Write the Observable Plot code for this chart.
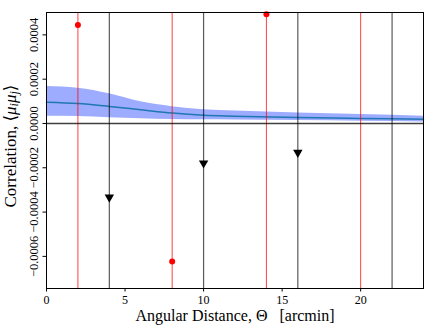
<!DOCTYPE html>
<html><head><meta charset="utf-8">
<script src="https://cdn.jsdelivr.net/npm/d3@7"></script>
<script src="https://cdn.jsdelivr.net/npm/@observablehq/plot@0.6"></script>
<style>body{margin:0;background:#fff}</style>
</head><body><div id="chart"></div>
<script>
const bandX = [0, 2, 4, 6, 8, 10, 12, 16, 20, 24];
const bandUpper = [1.67e-4, 1.59e-4, 1.34e-4, 9.8e-5, 7.6e-5, 6.2e-5, 5.6e-5, 4.7e-5, 4.0e-5, 3.3e-5];
const bandMean  = [9.6e-5, 9.0e-5, 7.7e-5, 6.2e-5, 4.7e-5, 3.7e-5, 3.3e-5, 2.7e-5, 2.3e-5, 1.9e-5];
const bandLower = [3.3e-5, 3.2e-5, 2.6e-5, 2.1e-5, 1.8e-5, 1.7e-5, 1.6e-5, 1.3e-5, 1.0e-5, 7e-6];
const redX = [2, 8, 14, 20];
const redY = [4.45e-4, -6.23e-4, 4.93e-4, null];
const blackX = [4, 10, 16, 22];
const blackY = [-3.33e-4, -1.79e-4, -1.31e-4, null];
const xTicks = [0, 5, 10, 15, 20];
const yTicks = [-0.0006, -0.0004, -0.0002, 0, 0.0002, 0.0004];
const xLabel = "Angular Distance, \u0398   [arcmin]";

const band = bandX.map((x, i) => ({x, lo: bandLower[i], hi: bandUpper[i], m: bandMean[i]}));
const reds = redX.map((x, i) => ({x, y: redY[i]})).filter(d => d.y != null);
const blacks = blackX.map((x, i) => ({x, y: blackY[i]})).filter(d => d.y != null);
const fmt = d3.format(".4f");
const font = "Liberation Serif, DejaVu Serif, serif";

const plot = Plot.plot({
  width: 436, height: 327,
  marginLeft: 46, marginRight: 13, marginTop: 12, marginBottom: 39,
  style: {fontFamily: font, fontSize: "12px", background: "white"},
  x: {domain: [0, 24]},
  y: {domain: [-0.000745, 0.000501]},
  marks: [
    Plot.areaY(band, {x: "x", y1: "lo", y2: "hi", fill: "#5b74ff", fillOpacity: 0.6, curve: "monotone-x"}),
    Plot.lineY(band, {x: "x", y: "m", stroke: "#1f77b4", strokeWidth: 1.5, curve: "monotone-x"}),
    Plot.ruleX(redX, {stroke: "red", strokeOpacity: 0.75, strokeWidth: 1}),
    Plot.ruleX(blackX, {stroke: "black", strokeOpacity: 0.65, strokeWidth: 1.2}),
    Plot.ruleY([0], {stroke: "black", strokeOpacity: 0.75, strokeWidth: 1.5}),
    Plot.dot(reds, {x: "x", y: "y", fill: "red", r: 3}),
    Plot.dot(blacks, {x: "x", y: "y", fill: "black", symbol: "triangle", rotate: 180, r: 3.5}),
    Plot.axisX(xTicks, {tickSize: 3.5, tickPadding: 3, fontSize: 12, label: null, stroke: "black"}),
    Plot.axisY(yTicks, {tickSize: 3.5, tickFormat: () => "", label: null}),
    Plot.text(yTicks, {y: d => d, text: d => fmt(d), frameAnchor: "left", dx: -13, rotate: -90, textAnchor: "middle", lineAnchor: "middle", fontSize: 12.5}),
    Plot.text([xLabel], {text: d => d, frameAnchor: "bottom", dy: 27, fontSize: 16, lineAnchor: "middle"}),
    Plot.frame({stroke: "black"})
  ]
});
document.getElementById("chart").appendChild(plot);

const svg = d3.select(plot);
svg.selectAll("text").style("white-space", "pre");

// y label with italic subscripts
const yl = svg.append("text")
  .attr("transform", "translate(11.5,146) rotate(-90)")
  .attr("text-anchor", "middle").attr("dominant-baseline", "middle")
  .attr("font-family", font).attr("font-size", 17).attr("fill", "black");
yl.append("tspan").text("Correlation, \u27E8");
yl.append("tspan").attr("font-style", "italic").text("\u03BC");
yl.append("tspan").attr("font-style", "italic").attr("font-size", 12).attr("dy", 3).text("i");
yl.append("tspan").attr("font-style", "italic").attr("dy", -3).text("\u03BC");
yl.append("tspan").attr("font-style", "italic").attr("font-size", 12).attr("dy", 3).text("j");
yl.append("tspan").attr("dy", -3).text("\u27E9");
</script></body></html>
